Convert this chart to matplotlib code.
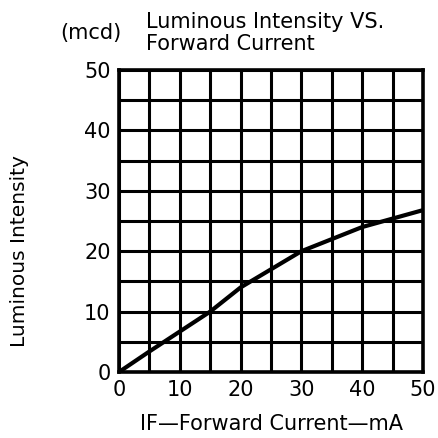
import matplotlib.pyplot as plt

# Forward current (mA) vs luminous intensity (mcd)
current_ma = [0, 5, 10, 15, 20, 25, 30, 35, 40, 45, 50]
intensity_mcd = [0, 3.4, 6.7, 10.0, 14.0, 17.0, 20.0, 22.0, 24.0, 25.4, 26.8]
x_ticks = [0, 10, 20, 30, 40, 50]
y_ticks = [0, 10, 20, 30, 40, 50]

fig = plt.figure(figsize=(4.38, 4.38), dpi=100)
ax = fig.add_axes([119 / 438, 66 / 438, 304 / 438, 302 / 438])

ax.plot(current_ma, intensity_mcd, color='black', linewidth=3.0,
        solid_capstyle='butt', zorder=3)

ax.set_xlim(0, 50)
ax.set_ylim(0, 50)
ax.set_xticks(range(0, 51, 5))
ax.set_yticks(range(0, 51, 5))
ax.set_xticklabels([str(v) if v in x_ticks else '' for v in range(0, 51, 5)])
ax.set_yticklabels([str(v) if v in y_ticks else '' for v in range(0, 51, 5)])
ax.tick_params(length=0, labelsize=15, pad=6)
ax.grid(True, color='black', linewidth=2.2)
for s in ax.spines.values():
    s.set_linewidth(2.6)

ax.set_xlabel('IF\u2014Forward Current\u2014mA', fontsize=15, labelpad=10)
fig.text(20 / 438, 1 - 251 / 438, 'Luminous Intensity', rotation=90,
         fontsize=14.5, ha='center', va='center')
fig.text(146 / 438, 1 - 12 / 438, 'Luminous Intensity VS.\nForward Current',
         fontsize=15, ha='left', va='top', linespacing=1.1)
fig.text(60 / 438, 1 - 33 / 438, '(mcd)', fontsize=15, ha='left', va='center')

fig.savefig('out.png', dpi=100)
